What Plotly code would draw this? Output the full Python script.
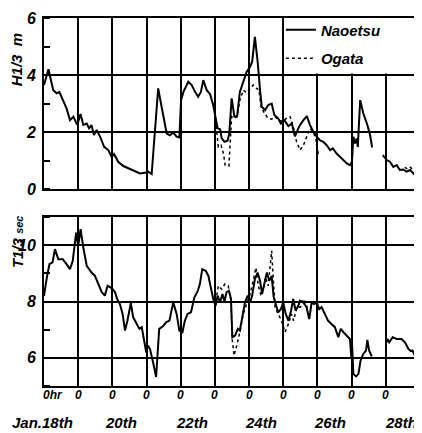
import plotly.graph_objects as go

# ---------------- data (days from Jan.18th 0hr) ----------------
nao_h_day = [0.0, 0.13, 0.27, 0.37, 0.45, 0.57, 0.66, 0.76, 0.86, 0.97, 1.07, 1.15, 1.25, 1.32, 1.39,
             1.46, 1.54, 1.64, 1.76, 1.88, 1.98, 2.05, 2.17, 2.32, 2.47, 2.61, 2.71, 2.81, 2.95, 3.05,
             3.15, 3.34, 3.44, 3.59, 3.68, 3.78, 3.88, 3.96, 4.01, 4.08, 4.22, 4.32, 4.42, 4.51, 4.59,
             4.66, 4.76, 4.86, 4.95, 5.02, 5.08, 5.15, 5.2, 5.28, 5.37, 5.42, 5.49, 5.57, 5.65, 5.73,
             5.83, 5.93, 6.03, 6.09, 6.17, 6.25, 6.32, 6.37, 6.47, 6.56, 6.66, 6.74, 6.85, 6.93, 7.03,
             7.15, 7.25, 7.34, 7.44, 7.49, 7.59, 7.69, 7.78, 7.88, 7.98, 8.07, 8.17, 8.27, 8.37, 8.45,
             8.56, 8.66, 8.76, 8.86, 8.95, 9.01, 9.05, 9.1, 9.15, 9.18, 9.25, 9.34, 9.46, 9.54, 9.6,
             9.75, 9.91, 10.03, 10.12, 10.22, 10.32, 10.41, 10.51, 10.61, 10.71, 10.8, 10.92]
nao_h = [3.65, 4.2, 3.47, 3.36, 3.4, 3.06, 2.83, 2.42, 2.54, 2.25, 2.63, 2.25, 2.3, 2.13, 2.25,
         1.9, 2.07, 1.84, 1.48, 1.37, 1.13, 1.23, 0.96, 0.81, 0.73, 0.64, 0.6, 0.55, 0.57, 0.61,
         0.53, 3.53, 2.89, 1.95, 1.89, 1.98, 1.84, 1.81, 3.12, 3.41, 3.77, 3.65, 3.41, 3.24, 3.41,
         3.82, 3.47, 3.33, 2.95, 2.42, 2.13, 2.1, 1.78, 1.66, 1.7, 1.95, 3.18, 2.54, 2.56, 3.41,
         3.77, 4.12, 4.29, 4.47, 5.34, 4.47, 3.47, 2.89, 2.77, 2.95, 3.0, 2.6, 2.48, 2.3, 2.42,
         2.21, 2.3, 1.85, 2.13, 2.25, 2.42, 2.56, 2.25, 2.01, 1.84, 1.72, 1.66, 1.54, 1.37, 1.43,
         1.25, 1.13, 1.02, 0.9, 0.84, 0.96, 1.84, 1.6, 1.78, 1.48, 3.12, 2.66, 2.25, 1.89, 1.46,
         None, 1.19, 1.02, 0.96, 0.78, 0.84, 0.67, 0.69, 0.61, 0.67, 0.55, 0.41]

oga_h_day = [5.02, 5.1, 5.18, 5.25, 5.3, 5.41, 5.44, 5.49, 5.57, 5.65, 5.73, 5.83, 5.93, 6.03, 6.12,
             6.22, 6.29, 6.35, 6.45, 6.56, 6.66, 6.76, 6.87, 7.0, 7.1, 7.2, 7.29, 7.39, 7.49, 7.59,
             7.68, 7.78, 7.88, 7.96, 8.03, 9.0, 10.55, 10.62, 10.7, 10.78, 10.86]
oga_h = [2.42, 1.48, 1.54, 1.25, 0.84, 0.81, 1.48, 2.54, 2.48, 2.54, 3.12, 3.47, 3.38, 3.53, 3.65,
         3.53, 3.47, 2.89, 2.66, 2.48, 2.45, 2.54, 2.42, 2.36, 2.5, 2.54, 2.19, 1.66, 1.37, 1.54,
         1.84, 2.13, 2.01, 1.72, 1.19, None, 0.76, 0.72, 0.78, 0.7, 0.66]

nao_t_day = [0.0, 0.03, 0.06, 0.1, 0.16, 0.25, 0.32, 0.42, 0.55, 0.66, 0.76, 0.84, 0.94, 1.0, 1.07,
             1.15, 1.25, 1.32, 1.39, 1.49, 1.59, 1.69, 1.78, 1.86, 1.98, 2.08, 2.14, 2.22, 2.3, 2.37,
             2.44, 2.54, 2.61, 2.71, 2.79, 2.86, 2.93, 2.99, 3.04, 3.1, 3.2, 3.28, 3.37, 3.47, 3.57,
             3.67, 3.78, 3.88, 3.96, 4.05, 4.12, 4.2, 4.3, 4.4, 4.5, 4.56, 4.63, 4.73, 4.81, 4.89,
             4.95, 5.02, 5.08, 5.15, 5.22, 5.28, 5.34, 5.41, 5.47, 5.51, 5.59, 5.67, 5.73, 5.8, 5.88,
             5.96, 6.03, 6.09, 6.17, 6.25, 6.32, 6.38, 6.45, 6.52, 6.59, 6.66, 6.72, 6.79, 6.85, 6.93,
             7.0, 7.07, 7.15, 7.23, 7.29, 7.36, 7.44, 7.49, 7.59, 7.68, 7.76, 7.83, 7.9, 7.98, 8.05,
             8.12, 8.22, 8.31, 8.41, 8.51, 8.61, 8.68, 8.76, 8.86, 8.95, 8.99, 9.01, 9.05, 9.13, 9.2,
             9.26, 9.34, 9.42, 9.46, 9.51, 9.59, 9.8, 10.03, 10.05, 10.1, 10.2, 10.32, 10.46, 10.56,
             10.66, 10.73, 10.78, 10.85]
nao_t = [8.2, 8.38, 8.68, 8.97, 9.33, 9.39, 9.86, 9.5, 9.5, 9.33, 9.15, 9.44, 10.45, 9.97, 10.57,
         9.92, 9.27, 9.15, 9.03, 8.91, 8.62, 8.33, 8.21, 8.56, 8.48, 8.33, 8.09, 7.91, 7.56, 6.97,
         7.32, 7.94, 7.44, 7.2, 7.03, 7.09, 6.61, 6.2, 6.44, 6.32, 5.79, 5.32, 7.03, 7.11, 7.26,
         7.32, 7.97, 7.56, 6.97, 6.91, 7.32, 7.56, 7.62, 8.15, 8.38, 8.62, 9.15, 9.09, 8.91, 8.44,
         8.09, 7.85, 8.21, 7.97, 8.27, 8.0, 8.33, 8.38, 8.09, 6.73, 6.79, 7.03, 6.97, 7.44, 7.97,
         8.21, 7.97, 8.21, 8.8, 9.03, 8.74, 8.27, 8.62, 9.03, 8.74, 8.91, 8.15, 7.85, 7.62, 7.73,
         7.97, 7.56, 7.32, 7.68, 8.09, 7.68, 7.85, 8.03, 7.97, 7.8, 7.38, 7.97, 7.91, 7.97, 7.73,
         7.8, 7.56, 7.32, 7.2, 7.09, 6.73, 7.03, 6.91, 6.79, 6.67, 6.02, 6.55, 5.43, 5.34, 5.43,
         5.9, 6.14, 6.26, 6.64, 6.26, 6.05, None, 6.55, 6.67, 6.55, 6.73, 6.67, 6.67, 6.55,
         6.32, 6.24, 6.26, 6.08]

oga_t_day = [5.0, 5.1, 5.2, 5.29, 5.39, 5.47, 5.51, 5.56, 5.64, 5.73, 5.83, 5.93, 6.03, 6.12, 6.2,
             6.27, 6.35, 6.43, 6.48, 6.56, 6.66, 6.71, 6.76, 6.85, 6.95, 7.05, 7.15, 7.24, 7.3, 7.4,
             7.5, 7.6, 7.7]
oga_t = [7.8, 8.56, 8.44, 8.62, 8.56, 8.03, 6.61, 6.08, 6.44, 6.91, 7.56, 7.91, 8.27, 8.74, 9.2,
         8.56, 8.21, 8.5, 8.86, 8.56, 9.8, 8.74, 7.8, 7.56, 7.32, 6.91, 7.2, 7.56, 7.32, 7.8,
         7.8, 8.09, 7.8]

x_tick_vals = [0, 1, 2, 3, 4, 5, 6, 7, 8, 9, 10, 11]
x_tick_text = ["0hr"] + ["0"] * 11
date_labels = ["Jan.18th", "20th", "22th", "24th", "26th", "28th"]
date_pos = [-0.03, 2.25, 4.33, 6.35, 8.37, 10.44]
h_ticks = [0, 2, 4, 6]
t_ticks = [6, 8, 10]

FONT = "Liberation Sans"
bfont = lambda s: dict(family=FONT, size=s, color="black", weight="bold", style="italic")

fig = go.Figure()
fig.add_trace(go.Scatter(x=nao_h_day, y=nao_h, mode="lines", name="Naoetsu",
                         legendgroup="n", line=dict(color="black", width=2), xaxis="x", yaxis="y"))
fig.add_trace(go.Scatter(x=oga_h_day, y=oga_h, mode="lines", name="Ogata",
                         legendgroup="o", line=dict(color="black", width=1.5, dash="dot"), xaxis="x", yaxis="y"))
fig.add_trace(go.Scatter(x=nao_t_day, y=nao_t, mode="lines", showlegend=False,
                         line=dict(color="black", width=2), xaxis="x2", yaxis="y2"))
fig.add_trace(go.Scatter(x=oga_t_day, y=oga_t, mode="lines", showlegend=False,
                         line=dict(color="black", width=1.5, dash="dot"), xaxis="x2", yaxis="y2"))

common_x = dict(range=[0, 11], dtick=1, tick0=0, showgrid=True, gridcolor="black", gridwidth=1.6,
                showline=True, linecolor="black", linewidth=2, mirror=True, zeroline=False,
                ticks="", fixedrange=True, showticklabels=False)
common_y = dict(showgrid=True, gridcolor="black", gridwidth=1.6, showline=True, linecolor="black",
                linewidth=2, mirror="ticks", zeroline=False, ticks="", tickfont=bfont(16),
                minor=dict(dtick=1, ticks="inside", ticklen=6, tickcolor="black", tickwidth=1.5, showgrid=False),
                ticklabelstandoff=3, fixedrange=True)

# the page body has an 8px margin: the figure is sized/offset to compensate
fig.update_layout(
    width=414, height=425,
    margin=dict(l=36, r=2, t=10, b=47, autoexpand=False),
    paper_bgcolor="white", plot_bgcolor="white",
    xaxis=dict(common_x, domain=[0, 1], anchor="y"),
    xaxis2=dict(common_x, domain=[0, 1], anchor="y2"),
    yaxis=dict(common_y, domain=[0.535, 1], range=[0, 6], tickvals=h_ticks, anchor="x"),
    yaxis2=dict(common_y, domain=[0, 0.459], range=[5, 11], tickvals=t_ticks, anchor="x2"),
    showlegend=True,
    legend=dict(x=0.63, y=1.012, xanchor="left", yanchor="top", bgcolor="rgba(0,0,0,0)",
                font=bfont(15), traceorder="grouped", tracegroupgap=6, borderwidth=0),
)

# white legend area (hides grid lines behind legend)
fig.add_shape(type="rect", xref="x", yref="y", x0=7.04, x1=11, y0=4.05, y1=6,
              fillcolor="white", line=dict(width=0), layer="above")

annotations = []
for val, txt in zip(x_tick_vals, x_tick_text):
    shift = -3 if txt == "0hr" else (-2 if val == 11 else 0)
    annotations.append(dict(text=txt, x=val / 11, y=-0.0245, xref="paper", yref="paper",
                            xanchor="left" if txt == "0hr" else "center", yanchor="middle",
                            xshift=shift, showarrow=False, font=bfont(12)))
for lab, pos in zip(date_labels, date_pos):
    annotations.append(dict(text=lab, x=pos / 11, y=-0.098, xref="paper", yref="paper", xanchor="center",
                            yanchor="middle", showarrow=False, font=bfont(15)))
annotations.append(dict(text="H1/3\u00a0\u00a0m", x=-0.071, y=0.886, xref="paper", yref="paper",
                        xanchor="center", yanchor="middle", textangle=-90, showarrow=False, font=bfont(15)))
annotations.append(dict(text="T1/3 <span style='font-size:11px'>sec</span>", x=-0.071, y=0.392,
                        xref="paper", yref="paper", xanchor="center", yanchor="middle",
                        textangle=-90, showarrow=False, font=bfont(15)))
fig.update_layout(annotations=annotations)

fig.write_html("out.html")
